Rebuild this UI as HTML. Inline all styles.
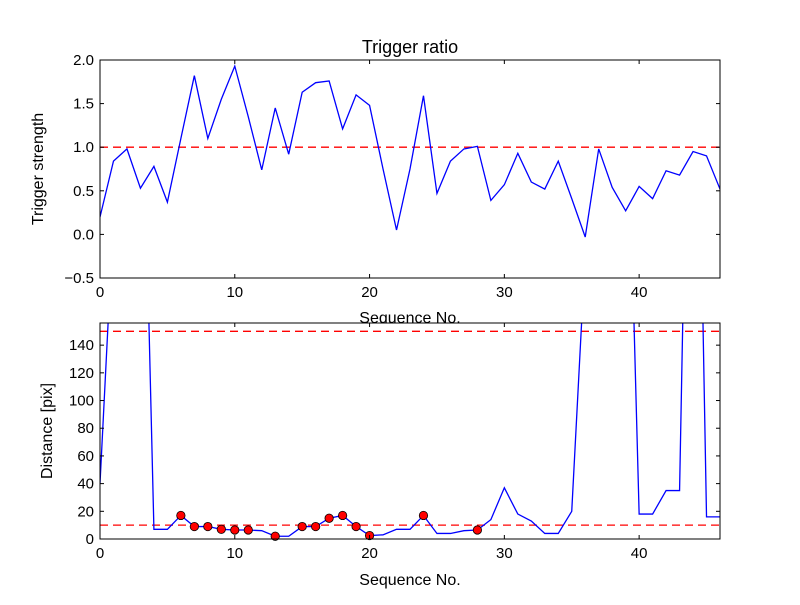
<!DOCTYPE html>
<html><head><meta charset="utf-8"><style>
body{margin:0;background:#fff;}
svg text{font-family:"Liberation Sans","DejaVu Sans",sans-serif;}
</style></head><body>
<svg id="fig" width="800" height="600" xmlns="http://www.w3.org/2000/svg"></svg>
<script>
const seq = Array.from({length:47},(_,i)=>i);
const ratioValues = [0.2,0.84,0.98,0.53,0.78,0.37,1.1,1.82,1.1,1.55,1.93,1.35,0.74,1.45,0.92,1.63,1.74,1.76,1.21,1.6,1.48,0.75,0.05,0.75,1.59,0.47,0.84,0.98,1.01,0.39,0.57,0.93,0.6,0.52,0.84,0.41,-0.03,0.98,0.54,0.27,0.55,0.41,0.73,0.68,0.95,0.9,0.52];
const distValues = [40,233,400,410,7,7,17,9,9,7,6.5,6.5,6,2,2,9,9,15,17,9,2.5,3,7,7,17,4,4,6,6.5,14,37,18,13,4,4,20,206,400,400,381,18,18,35,35,550,16,16];
const markerIdx = [6,7,8,9,10,11,13,15,16,17,18,19,20,24,28];
const ratioThreshold = 1.0;
const distThresholds = [10,150];
const topYTicks = [-0.5,0.0,0.5,1.0,1.5,2.0];
const botYTicks = [0,20,40,60,80,100,120,140];
const xTicks = [0,10,20,30,40];

const NS="http://www.w3.org/2000/svg";
const svg=document.getElementById('fig');
function el(tag,attrs,parent){const e=document.createElementNS(NS,tag);for(const k in attrs)e.setAttribute(k,attrs[k]);(parent||svg).appendChild(e);return e;}

function drawAxes(cfg){
  const {x0,x1,y0,y1,ymin,ymax,name}=cfg;
  const sx=v=>x0+(v-0)/(46-0)*(x1-x0);
  const sy=v=>y1-(v-ymin)/(ymax-ymin)*(y1-y0);
  const g=el('g',{});
  
  
  const cid='clip-'+name;
  const cp=el('clipPath',{id:cid},g);el('rect',{x:x0,y:y0,width:x1-x0,height:y1-y0},cp);
  el('rect',{x:x0,y:y0,width:x1-x0,height:y1-y0,fill:'#fff'},g);
  const plot=el('g',{'clip-path':'url(#'+cid+')'},g);
  
  
  return {g,plot,sx,sy,...cfg};
}
function frame(a){
  const {g,x0,x1,y0,y1,sx,sy}=a;
  el('rect',{x:x0,y:y0,width:x1-x0,height:y1-y0,fill:'none',stroke:'#000','stroke-width':1},g);
  xTicks.forEach(t=>{const x=sx(t);
    el('line',{x1:x,x2:x,y1:y1,y2:y1-4,stroke:'#000'},g);
    el('line',{x1:x,x2:x,y1:y0,y2:y0+4,stroke:'#000'},g);
    const tx=el('text',{x:x,y:y1+19,'text-anchor':'middle','font-size':15},g);tx.textContent=t;
    
    
  });
  a.yticks.forEach(t=>{const y=sy(t);
    el('line',{x1:x0,x2:x0+4,y1:y,y2:y,stroke:'#000'},g);
    el('line',{x1:x1,x2:x1-4,y1:y,y2:y,stroke:'#000'},g);
    const tx=el('text',{x:x0-6,y:y+5,'text-anchor':'end','font-size':15},g);
    tx.textContent=a.fmt(t);
    
    
  });
}

// top
const A=drawAxes({x0:100,x1:720,y0:60,y1:278,ymin:-0.5,ymax:2.0,name:'trigger-ratio-axes',yticks:topYTicks,fmt:t=>(t<0?'\u2212':'')+Math.abs(t).toFixed(1)});
let l=el('line',{x1:A.x0,x2:A.x1,y1:A.sy(ratioThreshold),y2:A.sy(ratioThreshold),stroke:'#f00','stroke-dasharray':'8,5','stroke-width':1.3},A.plot);


let p=el('polyline',{points:seq.map((s,i)=>A.sx(s)+','+A.sy(ratioValues[i])).join(' '),fill:'none',stroke:'#00f','stroke-width':1.3},A.plot);


frame(A);
let t=el('text',{x:410,y:53,'text-anchor':'middle','font-size':18});t.textContent='Trigger ratio';


t=el('text',{x:410,y:323,'text-anchor':'middle','font-size':16});t.textContent='Sequence No.';


t=el('text',{x:0,y:0,'text-anchor':'middle','font-size':16,transform:'translate(43,169) rotate(-90)'});t.textContent='Trigger strength';



// bottom
const B=drawAxes({x0:100,x1:720,y0:323,y1:539,ymin:0,ymax:156,name:'distance-axes',yticks:botYTicks,fmt:t=>String(t)});
distThresholds.forEach(v=>{const d=el('line',{x1:B.x0,x2:B.x1,y1:B.sy(v),y2:B.sy(v),stroke:'#f00','stroke-dasharray':'8,5','stroke-width':1.3},B.plot);
  
  });
p=el('polyline',{points:seq.map((s,i)=>B.sx(s)+','+B.sy(distValues[i])).join(' '),fill:'none',stroke:'#00f','stroke-width':1.3},B.plot);


markerIdx.forEach(i=>{const c=el('circle',{cx:B.sx(seq[i]),cy:B.sy(distValues[i]),r:4.2,fill:'#f00',stroke:'#000','stroke-width':0.8},B.g);
  
  });
frame(B);
t=el('text',{x:410,y:585,'text-anchor':'middle','font-size':16});t.textContent='Sequence No.';


t=el('text',{x:0,y:0,'text-anchor':'middle','font-size':16,transform:'translate(52,431) rotate(-90)'});t.textContent='Distance [pix]';


</script>
</body></html>
